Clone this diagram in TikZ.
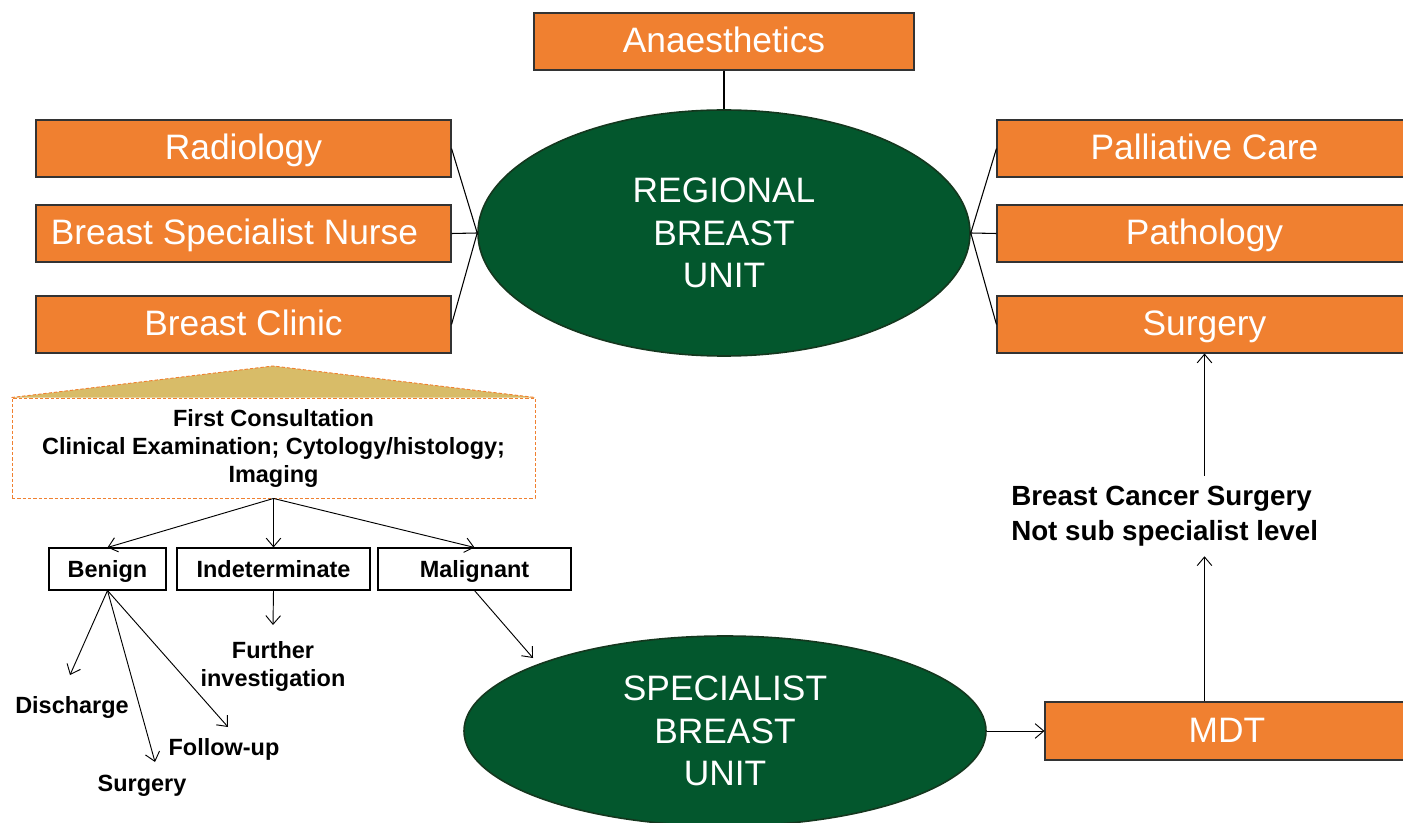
\documentclass[tikz,border=0pt]{standalone}
\usepackage{fontspec}
\setmainfont{Liberation Sans}
\usetikzlibrary{arrows.meta,shapes.geometric}
\definecolor{orng}{RGB}{240,128,48}
\definecolor{dgreen}{RGB}{3,87,45}
\definecolor{dgreenedge}{RGB}{20,55,30}
\definecolor{tan}{RGB}{216,188,104}
\begin{document}
\begin{tikzpicture}[x=0.75pt,y=-0.75pt,
  obox/.style={draw=black!80, fill=orng, line width=0.8pt, text=white,
    font=\fontsize{26.5}{32}\selectfont, inner sep=0pt, minimum height=42.75pt,
    text height=19pt, text depth=2pt},
  unit/.style={ellipse, draw=dgreenedge, fill=dgreen, line width=1.2pt, text=white,
    font=\fontsize{26.5}{32}\selectfont, align=center, inner sep=0pt},
  wbox/.style={draw=black, line width=0.8pt, fill=white,
    font=\bfseries\fontsize{17.6}{21}\selectfont, minimum height=31.5pt, inner sep=0pt,
    text height=13pt, text depth=0pt},
  lbl/.style={font=\bfseries\fontsize{17.6}{21}\selectfont, align=center, inner sep=0pt},
  arr/.style={-{Straight Barb[length=6.5pt,width=11pt]}, line width=0.7pt},
  link/.style={line width=0.8pt},
  dashorng/.style={draw=orng, dash pattern=on 2.5pt off 1.5pt, line width=0.7pt}
]
\useasboundingbox (0,0) rectangle (1403,823);

% top hub
\node[unit, minimum width=369pt, minimum height=184.5pt] (reg) at (724,233) {REGIONAL\\BREAST\\UNIT};
\node[obox, minimum width=285pt] (ana) at (724,41.5) {Anaesthetics};
\node[obox, minimum width=311.25pt] (rad) at (243.5,148.5) {Radiology};
\node[obox, minimum width=311.25pt] (bsn) at (243.5,233.5) {Breast Specialist Nurse\hspace{13.5pt}\null};
\node[obox, minimum width=311.25pt] (bcl) at (243.5,324.5) {Breast Clinic};
\node[obox, minimum width=311.25pt] (pal) at (1204.5,148.5) {Palliative Care};
\node[obox, minimum width=311.25pt] (pat) at (1204.5,233.5) {Pathology};
\node[obox, minimum width=311.25pt] (surg) at (1204.5,324.5) {Surgery};

\draw[link] (ana.south) -- (reg.north);
\draw[link] (rad.east) -- (reg.west);
\draw[link] (bsn.east) -- (reg.west);
\draw[link] (bcl.east) -- (reg.west);
\draw[link] (pal.west) -- (reg.east);
\draw[link] (pat.west) -- (reg.east);
\draw[link] (surg.west) -- (reg.east);

% first consultation
\node[dashorng, fill=white,
  minimum width=392.25pt, minimum height=75pt, inner sep=0pt,
  font=\bfseries\fontsize{17.6}{21}\selectfont, align=center] (fc) at (273.5,448)
  {\raisebox{-3pt}{\parbox{380pt}{\centering First Consultation\\Clinical Examination; Cytology/histology;\\Imaging}}};
\coordinate (apex) at (273,366);
\fill[tan] (fc.north west) -- (apex) -- (fc.north east) -- cycle;
\draw[dashorng] (fc.north west) -- (apex) -- (fc.north east);

\node[wbox, minimum width=87.75pt] (ben) at (107.5,569) {Benign};
\node[wbox, minimum width=144.75pt] (ind) at (273.5,569) {Indeterminate};
\node[wbox, minimum width=144.75pt] (mal) at (474.5,569) {Malignant};

\draw[arr] (fc.south) -- (ben.north);
\draw[arr] (fc.south) -- (ind.north);
\draw[arr] (fc.south) -- (mal.north);

\node[lbl] (dis) at (72,707) {Discharge};
\node[lbl] (sur) at (142,786) {Surgery};
\node[lbl] (fol) at (224,749) {Follow-up};
\node[lbl] (fur) at (273,666) {Further\\investigation};

\coordinate (tdis) at (70,675);
\coordinate (tsur) at (155,762);
\coordinate (tfol) at (228,727);
\coordinate (tfur) at (273,625);
\coordinate (tmal) at (533,658);

\draw[arr] (ben.south) -- (tdis);
\draw[arr] (ben.south) -- (tsur);
\draw[arr] (ben.south) -- (tfol);
\draw[arr] (ind.south) -- (tfur);
\draw[arr] (mal.south) -- (tmal);

% specialist unit
\node[unit, minimum width=391.5pt, minimum height=142.5pt] (spec) at (725,731) {SPECIALIST\\BREAST\\UNIT};
\node[obox, minimum width=273pt, minimum height=43.5pt] (mdt) at (1227,731) {MDT};
\draw[arr] (spec.east) -- (mdt.west);

\node[font=\bfseries\fontsize{20.8}{26.3}\selectfont, align=left, anchor=west,
  minimum height=60pt, inner sep=0pt] (bcs) at (1011,516)
  {Breast Cancer Surgery\\Not sub specialist level};
\draw[arr] (mdt.north -| surg.south) -- (bcs.south -| surg.south);
\draw[arr] (bcs.north -| surg.south) -- (surg.south);
\end{tikzpicture}
\end{document}
